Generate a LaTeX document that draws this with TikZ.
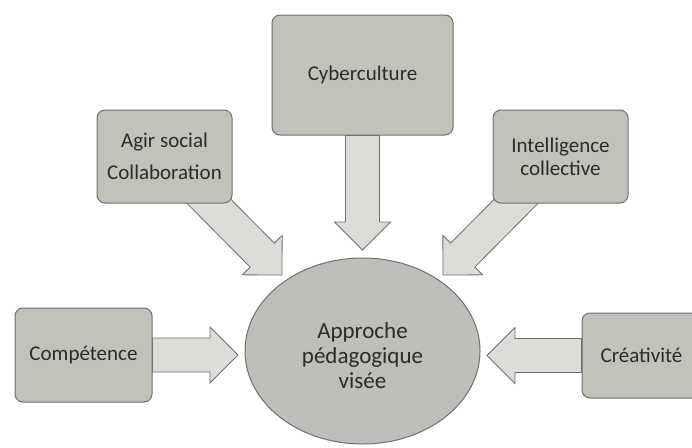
\documentclass[tikz,border=0pt]{standalone}
\usepackage{fontspec}
\setmainfont{Carlito}
\usetikzlibrary{shapes.geometric, calc}
\usepackage{xcolor}
\definecolor{BoxGray}{HTML}{C2C2BB}
\definecolor{CentreGray}{HTML}{BEBEBA}
\definecolor{ArrowGray}{HTML}{DCDCD9}
\definecolor{LineGray}{HTML}{6F6F6F}
\definecolor{TextDark}{HTML}{2B2B2B}
\pgfdeclarelayer{background}
\pgfsetlayers{background,main}
% block arrow from #1 to tip #2
\newcommand{\blockarrow}[2]{%
  \coordinate (ba-h) at ($(#2)!28pt!(#1)$);
  \draw[arrowshape] ($(#1)!17pt!90:(#2)$) -- ($(ba-h)!17pt!-90:(#1)$) -- ($(ba-h)!28pt!-90:(#1)$) -- (#2)
    -- ($(ba-h)!28pt!90:(#1)$) -- ($(ba-h)!17pt!90:(#1)$) -- ($(#1)!17pt!-90:(#2)$) -- cycle;}

\begin{document}
\begin{tikzpicture}[x=1pt, y=-1pt,
    box/.style={draw=LineGray, fill=BoxGray, rounded corners=8pt, line width=1pt, text=TextDark, font=\fontsize{21}{23}\selectfont, align=center, inner sep=0pt},
    arrowshape/.style={draw=LineGray, fill=ArrowGray, line width=0.8pt}]
    \useasboundingbox (0,0) rectangle (692,447);
    \clip (0,0) rectangle (692,447);

    % Center node
    \node[draw=LineGray, fill=CentreGray, ellipse, line width=1pt, minimum width=235pt, minimum height=186pt, inner sep=0pt, align=center, text=TextDark, font=\fontsize{23}{25}\selectfont] (centre) at (362.5,351) {\rule{0pt}{26pt}Approche\\pédagogique\\visée};

    % Surrounding nodes
    \node[box, minimum width=181pt, minimum height=120pt] (cyber) at (362.5,75) {Cyberculture};
    \node[box, minimum width=135pt, minimum height=93pt] (agir) at (164.5,156.5) {Agir social\\[9pt]Collaboration};
    \node[box, minimum width=135pt, minimum height=93pt] (intel) at (560.5,156.5) {Intelligence\\collective};
    \node[box, minimum width=137pt, minimum height=94pt] (comp) at (83.5,355) {Compétence};
    \node[box, minimum width=119pt, minimum height=85pt] (crea) at (641.5,355.5) {Créativité};

    % Arrow tips
    \coordinate (cyberTip) at (362.5,250);
    \coordinate (agirTip) at (282,275);
    \coordinate (intelTip) at (443,275);
    \coordinate (compTip) at (238,355);
    \coordinate (creaTip) at (487,355.5);

    % Arrows
    \begin{pgfonlayer}{background}
        \fill[white] (0,0) rectangle (692,447);
        \blockarrow{cyber.south}{cyberTip}
        \blockarrow{agir.center}{agirTip}
        \blockarrow{intel.center}{intelTip}
        \blockarrow{comp.east}{compTip}
        \blockarrow{crea.west}{creaTip}
    \end{pgfonlayer}
\end{tikzpicture}
\end{document}
